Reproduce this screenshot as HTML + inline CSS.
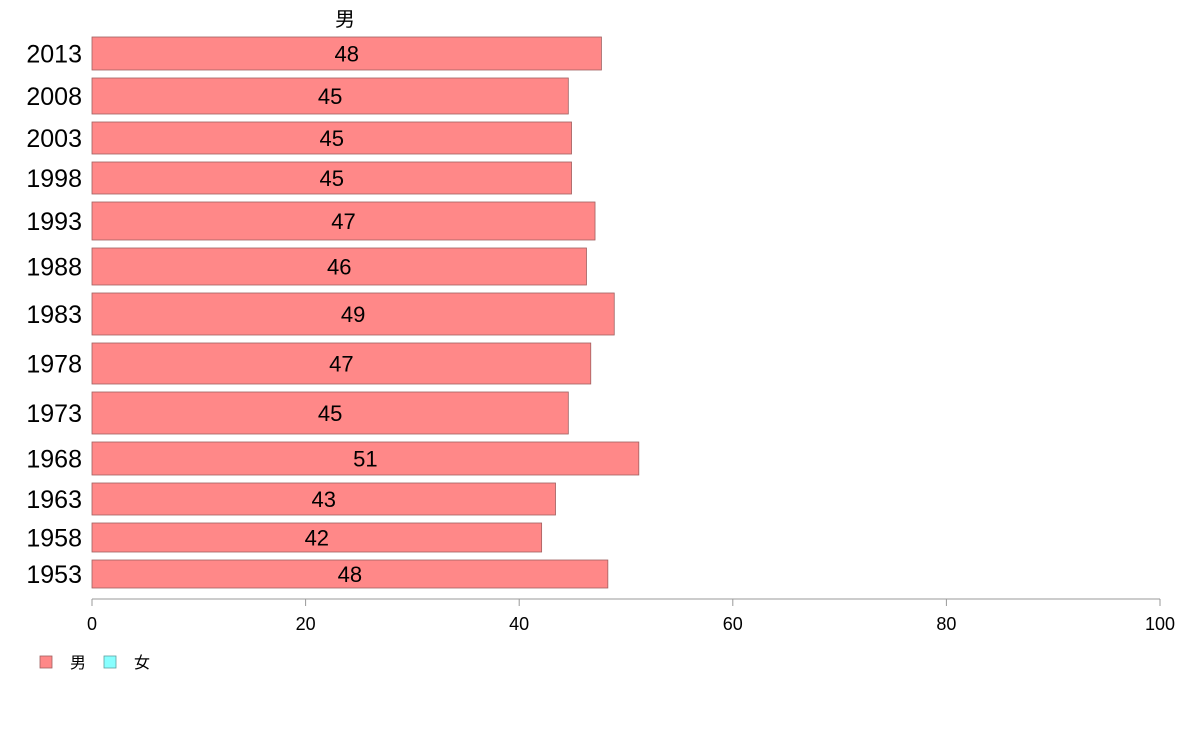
<!DOCTYPE html>
<html><head><meta charset="utf-8">
<style>
body{margin:0;background:#fff;}
svg{display:block;font-family:"Liberation Sans","Noto Sans CJK JP",sans-serif;}
</style></head>
<body>
<svg id="chart" width="1188" height="736" viewBox="0 0 1188 736"></svg>
<script>
const categories = ["2013","2008","2003","1998","1993","1988","1983","1978","1973","1968","1963","1958","1953"];
const maleValues = [47.7,44.6,44.9,44.9,47.1,46.3,48.9,46.7,44.6,51.2,43.4,42.1,48.3];
const maleLabels = ["48","45","45","45","47","46","49","47","45","51","43","42","48"];
const bandWeights = [33,36,32,32,38,37,42,41,42,33,32,29,28];
const xTicks = [0,20,40,60,80,100];

const svg = document.getElementById('chart');
const NS = 'http://www.w3.org/2000/svg';
function mk(tag, attrs){const e=document.createElementNS(NS,tag);for(const k in attrs)e.setAttribute(k,attrs[k]);svg.appendChild(e);return e;}
const x0=92, x1=1160;
const xScale = v => x0 + (x1-x0)*v/100;
const gap=8, topY=37;

let t=mk('text',{x:345,y:26,'font-size':20,'text-anchor':'middle',fill:'#000'});
t.textContent='男';



let y=topY;
categories.forEach((c,i)=>{
  const h=bandWeights[i];
  const r=mk('rect',{x:x0,y:y,width:xScale(maleValues[i])-x0,height:h,fill:'#ff8888',stroke:'#a06060','stroke-width':0.8});
  
  
  const l=mk('text',{x:(x0+xScale(maleValues[i]))/2,y:y+h/2+8,'font-size':22,'text-anchor':'middle',fill:'#000'});
  l.textContent=maleLabels[i];
  
  
  const yl=mk('text',{x:82,y:y+h/2+9,'font-size':25,'text-anchor':'end',fill:'#000'});
  yl.textContent=c;
  
  
  y+=h+gap;
});

const ax=mk('line',{x1:x0,y1:599,x2:x1,y2:599,stroke:'#999','stroke-width':1});


xTicks.forEach(v=>{
  const tk=mk('line',{x1:xScale(v),y1:599,x2:xScale(v),y2:606,stroke:'#999'});
  
  
  const tl=mk('text',{x:xScale(v),y:630,'font-size':18,'text-anchor':'middle',fill:'#000'});
  tl.textContent=v;
  
  
});

const lg1=mk('rect',{x:40,y:656,width:12,height:12,fill:'#ff8888',stroke:'#a06060','stroke-width':0.8});


const lt1=mk('text',{x:70,y:668,'font-size':16,fill:'#000'});
lt1.textContent='男';


const lg2=mk('rect',{x:104,y:656,width:12,height:12,fill:'#88ffff',stroke:'#60a0a0','stroke-width':0.8});


const lt2=mk('text',{x:134,y:668,'font-size':16,fill:'#000'});
lt2.textContent='女';


</script>
</body></html>
